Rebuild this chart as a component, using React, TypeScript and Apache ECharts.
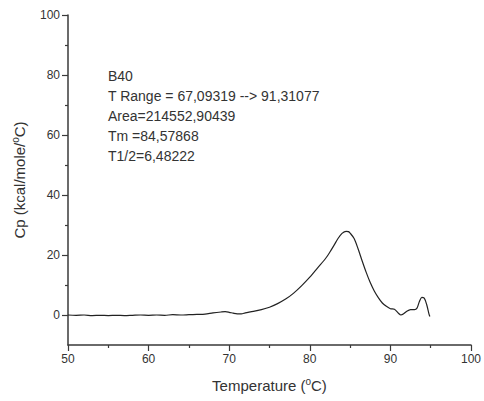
import React, { useEffect, useRef } from "react";
import * as echarts from "echarts";

const tempC = [
  50, 51, 52, 53, 54, 55, 56, 57, 58, 59, 60, 61, 62, 63, 64, 65, 66, 67, 68, 69, 69.5, 70, 70.5, 71, 71.5,
  72, 73, 74, 75, 76, 77, 78, 79, 80, 81, 82, 82.5, 83, 83.5, 84, 84.5, 84.8, 85, 85.5, 86, 86.5, 87,
  87.5, 88, 88.5, 89, 89.5, 90, 90.5, 91, 91.3, 91.6, 92, 92.5, 93, 93.3, 93.6, 93.9, 94.2, 94.5, 94.8, 94.9,
];
const cpValues = [
  0, -0.1, 0, -0.2, -0.1, -0.2, -0.1, -0.2, -0.1, 0, -0.1, 0, -0.1, 0.1, 0, 0.1, 0.2, 0.3, 0.7, 1.0, 1.1, 0.9, 0.6, 0.4, 0.4,
  0.7, 1.2, 1.8, 2.6, 3.8, 5.3, 7.3, 9.8, 12.6, 15.8, 19.0, 21.0, 23.2, 25.5, 27.2, 27.9, 27.8, 27.3, 25.5, 22.0, 18.0, 14.2,
  10.8, 8.0, 5.8, 4.0, 2.9, 2.1, 1.9, 0.6, 0.0, 0.3, 1.2, 1.8, 1.8, 2.3, 4.5, 5.9, 5.6, 3.5, 0.2, -0.5,
];
const xTicks = [50, 60, 70, 80, 90, 100];
const yMajorTicks = [0, 20, 40, 60, 80, 100];
const yMinorTicks = [10, 30, 50, 70, 90];
const annotationLines = [
  "B40",
  "T Range = 67,09319 --> 91,31077",
  "Area=214552,90439",
  "Tm =84,57868",
  "T1/2=6,48222",
];

const AXIS_COLOR = "#3a3a3a";
const TEXT_COLOR = "#333";
const FONT = "Liberation Sans, Arial, Helvetica, sans-serif";

export default function App() {
  const ref = useRef<HTMLDivElement>(null);
  useEffect(() => {
    if (!ref.current) return;
    const chart = echarts.init(ref.current, undefined, { renderer: "svg" });
    const sup = { fontSize: 10, verticalAlign: "top", padding: [0, 0, 8, 0], color: TEXT_COLOR, fontFamily: FONT };
    chart.setOption({
      animation: false,
      backgroundColor: "#fff",
      grid: { left: 68, right: 12, top: 15, bottom: 56 },
      xAxis: {
        type: "value",
        min: 50,
        max: 100,
        interval: 10,
        name: "Temperature ({sup|o}C)",
        nameLocation: "middle",
        nameGap: 31,
        nameTextStyle: { fontSize: 15, color: TEXT_COLOR, fontFamily: FONT, rich: { sup } },
        axisLine: { show: true, onZero: false, lineStyle: { color: AXIS_COLOR, width: 1.5 } },
        axisTick: { show: true, inside: false, length: 6, lineStyle: { color: AXIS_COLOR, width: 1.2 }, customValues: xTicks },
        minorTick: { show: true, splitNumber: 2, length: 3, lineStyle: { color: AXIS_COLOR, width: 1.2 } },
        axisLabel: { fontSize: 12, color: TEXT_COLOR, fontFamily: FONT, margin: 8, customValues: xTicks },
        splitLine: { show: false },
      },
      yAxis: [
        {
          type: "value",
          min: -10,
          max: 100,
          interval: 10,
          position: "left",
          name: "Cp (kcal/mole/{sup|o}C)",
          nameLocation: "middle",
          nameGap: 40,
          nameTextStyle: { fontSize: 15, color: TEXT_COLOR, fontFamily: FONT, rich: { sup } },
          axisLine: { show: true, onZero: false, lineStyle: { color: AXIS_COLOR, width: 1.5 } },
          axisTick: { show: true, length: 6, lineStyle: { color: AXIS_COLOR, width: 1.2 }, customValues: yMajorTicks },
          axisLabel: { fontSize: 12, color: TEXT_COLOR, fontFamily: FONT, margin: 8, customValues: yMajorTicks },
          splitLine: { show: false },
        },
        {
          type: "value",
          min: -10,
          max: 100,
          interval: 10,
          position: "left",
          offset: 0,
          axisLine: { show: false },
          axisTick: { show: true, length: 3, lineStyle: { color: AXIS_COLOR, width: 1.2 }, customValues: yMinorTicks },
          axisLabel: { show: false },
          splitLine: { show: false },
        },
      ],
      graphic: [
        {
          type: "text",
          left: 108,
          top: 66,
          style: {
            text: annotationLines.join("\n"),
            fontSize: 14,
            lineHeight: 20,
            fill: TEXT_COLOR,
            fontFamily: FONT,
          },
        },
      ],
      series: [
        {
          type: "line",
          xAxisIndex: 0,
          yAxisIndex: 0,
          data: tempC.map((t, i) => [t, cpValues[i]]),
          showSymbol: false,
          smooth: 0.3,
          lineStyle: { color: "#222", width: 1.2 },
        },
      ],
    });
    return () => chart.dispose();
  }, []);
  return <div ref={ref} style={{ position: "fixed", left: 0, top: 0, width: 484, height: 401 }} />;
}
